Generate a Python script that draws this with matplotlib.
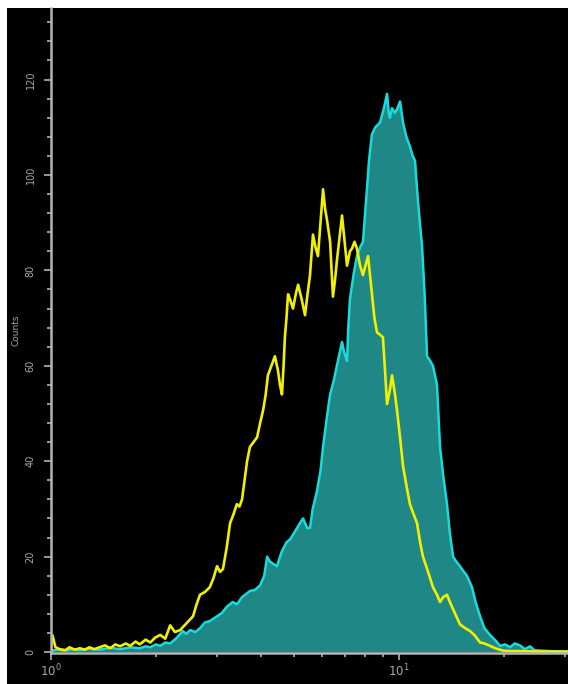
#!/usr/bin/env python3
import matplotlib
matplotlib.use("Agg")
import matplotlib.pyplot as plt
from matplotlib.patches import Rectangle
from matplotlib.ticker import FixedLocator, MultipleLocator, NullFormatter

# --- histogram data (fluorescence intensity, counts) ---
stained_x = [1.00, 1.05, 1.10, 1.15, 1.21, 1.29, 1.38, 1.48, 1.58, 1.69,
             1.80, 1.87, 1.93, 2.00, 2.06, 2.13, 2.20, 2.30, 2.39, 2.45,
             2.51, 2.60, 2.68, 2.77, 2.86, 3.00, 3.10, 3.20, 3.33, 3.42,
             3.54, 3.73, 3.85, 3.99, 4.10, 4.18, 4.25, 4.35, 4.46, 4.60,
             4.75, 4.86, 5.00, 5.19, 5.30, 5.45, 5.55, 5.65, 5.81, 5.95,
             6.05, 6.20, 6.34, 6.50, 6.63, 6.86, 6.95, 7.09, 7.15, 7.23,
             7.40, 7.57, 7.75, 7.88, 8.09, 8.20, 8.36, 8.55, 8.82, 9.05,
             9.24, 9.35, 9.42, 9.55, 9.74, 9.90, 10.07, 10.27, 10.50, 10.75,
             10.95, 11.12, 11.27, 11.45, 11.65, 11.85, 12.04, 12.30, 12.52, 12.86,
             13.12, 13.40, 13.74, 14.00, 14.30, 14.60, 14.97, 15.30, 15.68, 16.21,
             16.60, 17.10, 17.60, 18.26, 18.90, 19.51, 20.20, 20.84, 21.50, 22.27,
             23.00, 23.79, 24.50, 25.42, 27.16, 30.60]
stained_y = [0.3, 0.5, 0.3, 0.6, 0.4, 0.7, 0.5, 0.9, 0.6, 1.0,
             0.8, 1.2, 1.0, 1.6, 1.3, 2.0, 1.8, 3.0, 4.4, 3.8,
             4.6, 4.2, 5.0, 6.2, 6.5, 7.5, 8.2, 9.5, 10.5, 10.0,
             11.5, 12.8, 13.0, 14.0, 16.0, 20.0, 19.0, 18.5, 18.0, 21.0,
             23.0, 23.6, 25.0, 27.0, 28.0, 26.0, 26.0, 30.0, 33.7, 38.0,
             43.0, 49.0, 54.0, 57.0, 60.0, 65.0, 63.0, 61.0, 68.0, 74.0,
             79.0, 83.0, 85.0, 86.0, 97.0, 103.0, 108.5, 110.0, 111.0, 114.0,
             117.0, 113.0, 112.0, 114.0, 113.0, 114.0, 115.4, 111.0, 108.0, 106.0,
             104.0, 103.0, 97.0, 91.0, 85.0, 75.0, 62.0, 61.0, 60.0, 56.0,
             43.0, 37.0, 31.0, 25.0, 20.0, 19.0, 18.0, 17.0, 16.0, 13.6,
             10.5, 7.5, 5.0, 3.6, 2.5, 1.3, 1.6, 1.0, 1.8, 1.4,
             0.6, 1.2, 0.4, 0.3, 0.2, 0.1]

control_x = [1.00, 1.01, 1.03, 1.06, 1.10, 1.13, 1.17, 1.21, 1.25, 1.29,
             1.33, 1.38, 1.43, 1.48, 1.53, 1.58, 1.64, 1.69, 1.75, 1.80,
             1.87, 1.93, 1.99, 2.06, 2.13, 2.20, 2.27, 2.35, 2.45, 2.56,
             2.62, 2.68, 2.77, 2.86, 2.93, 3.00, 3.06, 3.12, 3.20, 3.27,
             3.35, 3.42, 3.48, 3.54, 3.60, 3.66, 3.73, 3.82, 3.91, 3.99,
             4.07, 4.14, 4.20, 4.30, 4.40, 4.49, 4.55, 4.61, 4.66, 4.70,
             4.75, 4.80, 4.86, 4.96, 5.05, 5.13, 5.25, 5.37, 5.46, 5.55,
             5.66, 5.75, 5.85, 5.95, 6.05, 6.13, 6.21, 6.34, 6.40, 6.46,
             6.55, 6.63, 6.75, 6.86, 6.98, 7.09, 7.23, 7.33, 7.45, 7.57,
             7.73, 7.88, 8.01, 8.15, 8.36, 8.50, 8.65, 8.82, 8.99, 9.10,
             9.24, 9.42, 9.55, 9.74, 9.87, 10.07, 10.27, 10.50, 10.75, 11.00,
             11.27, 11.50, 11.72, 12.10, 12.52, 12.86, 13.12, 13.40, 13.74, 14.00,
             14.30, 14.60, 14.97, 15.50, 16.00, 16.50, 17.10, 17.60, 18.26, 18.90,
             19.90, 20.84, 22.27, 25.00, 30.60]
control_y = [0.3, 3.5, 1.0, 0.6, 0.4, 1.0, 0.5, 0.8, 0.5, 1.0,
             0.6, 1.0, 1.4, 0.8, 1.6, 1.2, 1.8, 1.3, 2.2, 1.6,
             2.6, 2.0, 3.0, 3.6, 2.8, 5.6, 4.2, 4.6, 6.0, 7.5,
             10.0, 12.0, 12.6, 13.6, 15.5, 18.0, 16.8, 17.4, 22.0, 27.0,
             29.0, 31.0, 30.5, 32.0, 36.0, 40.0, 43.0, 44.0, 45.0, 48.0,
             50.7, 54.0, 58.0, 60.0, 62.0, 59.0, 56.0, 54.0, 60.0, 66.0,
             70.0, 75.0, 74.0, 72.0, 75.0, 77.0, 74.0, 70.6, 75.0, 79.0,
             87.5, 85.0, 83.0, 90.0, 97.0, 93.0, 90.6, 86.0, 80.0, 74.5,
             78.0, 82.0, 87.0, 91.5, 86.0, 81.0, 84.0, 84.6, 86.0, 84.6,
             81.0, 79.0, 81.0, 83.0, 75.0, 70.0, 67.0, 66.5, 66.0, 60.0,
             52.0, 55.0, 58.0, 54.0, 50.7, 45.0, 39.0, 35.0, 31.0, 29.0,
             27.0, 23.0, 20.0, 17.0, 13.6, 12.0, 10.5, 11.5, 12.0, 10.5,
             9.0, 7.5, 5.8, 5.0, 4.4, 3.5, 2.0, 1.8, 1.3, 0.8,
             0.3, 0.2, 0.2, 0.1, 0.1]

y_ticks = [0, 20, 40, 60, 80, 100, 120]

AXIS_GREY = '#b4b4b4'
TEAL = '#1f8786'
CYAN = '#18dcdc'
YELLOW = '#f2f000'

W, H = 568, 684
fig = plt.figure(figsize=(W / 100, H / 100), dpi=100, facecolor='white')
# black panel behind the plot, leaving a thin white margin top/left
fig.patches.append(Rectangle((7 / W, 0), 1 - 7 / W, 1 - 8 / H,
                             transform=fig.transFigure, facecolor='black',
                             edgecolor='none', zorder=-10))

ax = fig.add_axes([51 / W, 31 / H, 1 - 51 / W, (684 - 8 - 31) / H])
ax.set_facecolor('black')

ax.fill_between(stained_x, 0, stained_y, color=TEAL, lw=0, zorder=2)
ax.plot(stained_x, stained_y, color=CYAN, lw=1.8, zorder=3)
ax.plot(control_x, control_y, color=YELLOW, lw=1.9, zorder=4)

ax.set_xscale('log')
ax.set_xlim(1, 30.6)
ax.set_ylim(-0.2, 135)

for side in ('top', 'right'):
    ax.spines[side].set_visible(False)
for side in ('left', 'bottom'):
    ax.spines[side].set_color(AXIS_GREY)
    ax.spines[side].set_linewidth(1.8)
    ax.spines[side].set_zorder(5)

ax.xaxis.set_major_locator(FixedLocator([1, 10]))
ax.xaxis.set_minor_locator(FixedLocator([2, 3, 4, 5, 6, 7, 8, 9, 20, 30]))
ax.xaxis.set_minor_formatter(NullFormatter())
ax.set_xticklabels([r'$10^0$', r'$10^1$'])
ax.tick_params(axis='x', which='major', length=5, width=1.2, color=AXIS_GREY,
               labelcolor='#a8a8a8', labelsize=8.5, pad=2)
ax.tick_params(axis='x', which='minor', length=3, width=1.2, color=AXIS_GREY)

ax.set_yticks(y_ticks)
ax.yaxis.set_minor_locator(MultipleLocator(4))
ax.tick_params(axis='y', which='major', length=5, width=1.2, color=AXIS_GREY,
               labelcolor='#a8a8a8', labelsize=7, pad=6)
ax.tick_params(axis='y', which='minor', length=3, width=1.2, color=AXIS_GREY)
for lbl in ax.get_yticklabels():
    lbl.set_rotation(90)
    lbl.set_va('center')

ax.set_ylabel('Counts', color='#a8a8a8', fontsize=6.5, labelpad=4)

fig.savefig('out.png', dpi=100, facecolor='white')
